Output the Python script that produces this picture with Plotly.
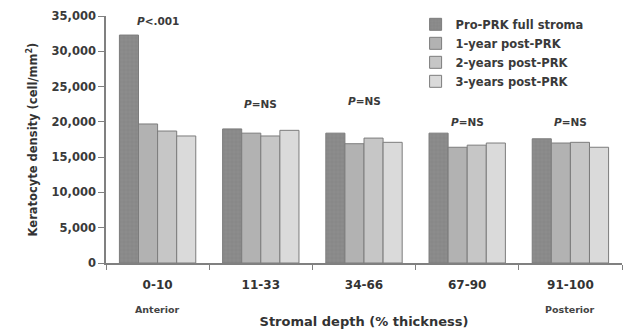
import plotly.graph_objects as go

categories = ["0-10", "11-33", "34-66", "67-90", "91-100"]
series_names = ["Pro-PRK full stroma", "1-year post-PRK", "2-years post-PRK", "3-years post-PRK"]
pre_prk = [32300, 19000, 18400, 18400, 17600]
year1 = [19700, 18400, 16900, 16400, 17000]
year2 = [18700, 18000, 17700, 16700, 17100]
year3 = [18000, 18800, 17100, 17000, 16400]
p_labels = ["<i>P</i><.001", "<i>P</i>=NS", "<i>P</i>=NS", "<i>P</i>=NS", "<i>P</i>=NS"]
p_label_y = [34300, 22600, 22900, 20000, 20000]
y_ticks = [0, 5000, 10000, 15000, 20000, 25000, 30000, 35000]

font = "DejaVu Sans, Verdana, sans-serif"
fills = ["#8c8c8c", "#b2b2b2", "#c6c6c6", "#dadada"]
values = [pre_prk, year1, year2, year3]

fig = go.Figure()
for i, (name, vals) in enumerate(zip(series_names, values)):
    marker = dict(color=fills[i], line=dict(color="#7c7c7c", width=1))
    if i == 0:
        marker["pattern"] = dict(shape="+", size=4, solidity=0.2, fgcolor="#767676", bgcolor=fills[i])
    fig.add_trace(go.Bar(x=categories, y=vals, name=name, marker=marker))

for i, (lab, yv) in enumerate(zip(p_labels, p_label_y)):
    fig.add_annotation(x=i, y=yv, text="<b>" + lab + "</b>", showarrow=False,
                       xref="x", yref="y", font=dict(size=10.5, color="#3a3a3a", family=font))

fig.add_annotation(x=0, y=-0.19, xref="x", yref="paper", text="<b>Anterior</b>", showarrow=False,
                   yanchor="middle", font=dict(size=9.5, color="#444", family=font))
fig.add_annotation(x=4, y=-0.19, xref="x", yref="paper", text="<b>Posterior</b>", showarrow=False,
                   yanchor="middle", font=dict(size=9.5, color="#444", family=font))

fig.update_layout(
    width=625, height=334,
    margin=dict(l=106, r=3, t=16, b=71),
    paper_bgcolor="white", plot_bgcolor="white",
    barmode="group", bargap=0.26, bargroupgap=0,
    font=dict(family=font, color="#333"),
    legend=dict(x=0.60, y=1.025, xanchor="left", yanchor="top",
                font=dict(size=11.5, color="#3a3a3a", family=font, weight="bold"),
                bgcolor="rgba(255,255,255,0)", itemwidth=30, tracegroupgap=0),
    showlegend=True,
)
fig.update_xaxes(
    showline=True, linecolor="#808080", linewidth=1.5,
    ticks="outside", tickson="boundaries", ticklen=5, tickcolor="#808080",
    ticklabelstandoff=10,
    tickfont=dict(size=12, color="#333", family=font, weight="bold"),
    title=dict(text="<b>Stromal depth (% thickness)</b>", font=dict(size=13, color="#333"), standoff=26),
    showgrid=False, range=[-0.5, 4.5], automargin=False,
)
fig.update_yaxes(
    range=[0, 35000], tickvals=y_ticks, tickformat=",d",
    showline=True, linecolor="#808080", linewidth=1.5,
    ticks="outside", ticklen=6, tickcolor="#808080",
    tickfont=dict(size=11.5, color="#3a3a3a", family=font, weight="bold"),
    title=dict(text="<b>Keratocyte density (cell/mm<sup>2</sup>)</b>", font=dict(size=11.5, color="#333"), standoff=12),
    showgrid=False, zeroline=False, automargin=False,
)
fig.write_html("out.html")
